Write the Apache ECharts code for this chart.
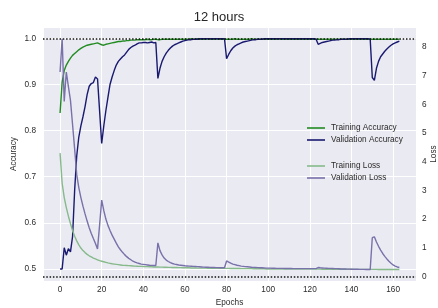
<!DOCTYPE html>
<html><head><meta charset="utf-8">
<script src="https://cdn.jsdelivr.net/npm/echarts@6/dist/echarts.min.js"></script>
<style>html,body{margin:0;padding:0;background:#fff}#c{width:438px;height:308px}</style>
</head><body><div id="c"></div>
<script>
const titleText = '12 hours';
const xName = 'Epochs';
const accName = 'Accuracy';
const lossName = 'Loss';
const xTicks = [0, 20, 40, 60, 80, 100, 120, 140, 160];
const accTicks = [0.5, 0.6, 0.7, 0.8, 0.9, 1.0];
const lossTicks = [0, 1, 2, 3, 4, 5, 6, 7, 8];
const seriesNames = ['Training Accuracy', 'Validation Accuracy', 'Training Loss', 'Validation Loss'];

const trainAcc = [
0.838,0.905,0.930,0.942,0.950,0.957,0.963,0.967,0.971,0.975,
0.978,0.981,0.983,0.985,0.986,0.987,0.988,0.989,0.990,0.988,
0.986,0.985,0.987,0.988,0.989,0.990,0.991,0.992,0.993,0.993,
0.994,0.994,0.995,0.995,0.996,0.996,0.996,0.997,0.997,0.997,
0.997,0.997,0.998,0.997,0.997,0.998,0.998,0.997,0.997,0.998,
0.998,0.998,0.998,0.998,0.998,0.998,0.998,0.998,0.998,0.998,
0.998,0.998,0.998,0.999,0.998,0.998,0.999,0.998,0.998,0.998,
0.998,0.999,0.998,0.998,0.998,0.999,0.998,0.998,0.998,0.998,
0.998,0.998,0.998,0.998,0.999,0.998,0.998,0.998,0.998,0.998,
0.998,0.998,0.999,0.998,0.998,0.998,0.998,0.998,0.998,0.998,
0.998,0.998,0.998,0.998,0.998,0.999,0.998,0.998,0.998,0.998,
0.998,0.998,0.998,0.998,0.998,0.998,0.998,0.998,0.998,0.998,
0.998,0.998,0.998,0.998,0.998,0.998,0.998,0.998,0.998,0.998,
0.998,0.998,0.998,0.998,0.998,0.998,0.998,0.998,0.998,0.998,
0.998,0.998,0.998,0.998,0.998,0.998,0.998,0.998,0.998,0.998,
0.998,0.998,0.998,0.998,0.998,0.998,0.998,0.998,0.998,0.998,
0.998,0.998,0.998,0.998
];
const valAcc = [
0.500,0.500,0.546,0.530,0.544,0.537,0.570,0.670,0.745,0.786,
0.810,0.830,0.852,0.878,0.896,0.902,0.904,0.916,0.912,0.842,
0.772,0.810,0.843,0.872,0.900,0.916,0.930,0.942,0.950,0.955,
0.960,0.964,0.970,0.976,0.980,0.983,0.985,0.988,0.990,0.990,
0.991,0.991,0.990,0.991,0.992,0.990,0.991,0.913,0.935,0.950,
0.960,0.968,0.974,0.979,0.983,0.986,0.988,0.990,0.992,0.994,
0.995,0.996,0.997,0.997,0.998,0.998,0.998,0.999,0.999,0.999,
0.999,0.999,0.999,0.999,0.999,0.999,0.999,0.999,0.999,0.999,
0.956,0.965,0.973,0.979,0.983,0.986,0.988,0.990,0.992,0.993,
0.994,0.995,0.996,0.997,0.997,0.998,0.998,0.998,0.999,0.999,
0.999,0.999,0.999,0.999,0.999,0.999,0.999,0.999,0.999,0.999,
0.999,0.999,0.999,0.999,0.999,0.999,0.999,0.999,0.999,0.999,
0.999,0.999,0.999,0.998,0.987,0.989,0.991,0.992,0.993,0.994,
0.995,0.996,0.996,0.997,0.997,0.998,0.998,0.998,0.998,0.999,
0.999,0.999,0.999,0.999,0.999,0.999,0.999,0.999,0.999,0.998,
0.915,0.909,0.935,0.950,0.960,0.966,0.972,0.977,0.981,0.985,
0.988,0.990,0.992,0.994
];
const trainLoss = [
4.30,3.25,2.75,2.40,2.10,1.84,1.60,1.40,1.24,1.10,
0.99,0.90,0.83,0.77,0.72,0.68,0.64,0.61,0.58,0.55,
0.53,0.51,0.49,0.47,0.455,0.44,0.43,0.42,0.41,0.40,
0.39,0.385,0.38,0.375,0.37,0.365,0.36,0.355,0.35,0.35,
0.345,0.34,0.34,0.335,0.335,0.33,0.33,0.33,0.325,0.325,
0.32,0.32,0.315,0.315,0.31,0.31,0.31,0.305,0.305,0.30,
0.30,0.30,0.30,0.295,0.295,0.295,0.29,0.29,0.29,0.29,
0.29,0.285,0.285,0.285,0.285,0.28,0.28,0.28,0.28,0.28,
0.28,0.28,0.275,0.275,0.275,0.275,0.275,0.27,0.27,0.27,
0.27,0.27,0.27,0.265,0.265,0.265,0.265,0.265,0.265,0.26,
0.26,0.26,0.26,0.26,0.26,0.26,0.26,0.258,0.258,0.258,
0.258,0.256,0.256,0.256,0.256,0.255,0.255,0.255,0.255,0.255,
0.254,0.254,0.254,0.253,0.253,0.253,0.252,0.252,0.252,0.251,
0.251,0.251,0.25,0.25,0.25,0.249,0.249,0.249,0.248,0.248,
0.248,0.247,0.247,0.247,0.246,0.246,0.246,0.245,0.245,0.245,
0.244,0.244,0.244,0.243,0.243,0.243,0.242,0.242,0.242,0.241,
0.241,0.241,0.240,0.240
];
const valLoss = [
7.13,8.29,6.10,7.13,6.62,6.14,5.30,4.45,3.55,3.10,
2.75,2.45,2.18,1.93,1.70,1.50,1.32,1.15,0.96,1.80,
2.66,2.30,2.00,1.78,1.60,1.44,1.30,1.16,1.03,0.93,
0.84,0.76,0.69,0.63,0.58,0.53,0.50,0.47,0.45,0.43,
0.42,0.41,0.40,0.39,0.385,0.38,0.38,1.17,0.90,0.75,
0.64,0.57,0.52,0.48,0.45,0.43,0.415,0.40,0.39,0.38,
0.37,0.365,0.36,0.355,0.35,0.345,0.34,0.335,0.33,0.325,
0.32,0.32,0.315,0.31,0.31,0.305,0.305,0.30,0.30,0.30,
0.54,0.50,0.46,0.43,0.41,0.39,0.375,0.36,0.35,0.34,
0.335,0.33,0.32,0.315,0.31,0.305,0.30,0.30,0.295,0.29,
0.29,0.29,0.285,0.285,0.28,0.28,0.28,0.28,0.275,0.275,
0.275,0.275,0.27,0.27,0.27,0.27,0.27,0.27,0.27,0.27,
0.27,0.27,0.27,0.27,0.31,0.30,0.295,0.29,0.285,0.28,
0.28,0.275,0.27,0.27,0.265,0.26,0.26,0.26,0.255,0.255,
0.25,0.25,0.25,0.25,0.245,0.245,0.245,0.24,0.24,0.24,
1.35,1.38,1.20,1.05,0.92,0.80,0.70,0.61,0.53,0.46,
0.40,0.36,0.33,0.31
];

const FONT = '"Liberation Sans", Arial, sans-serif';
const TXT = '#2b2b2b';
const FS = 8.25;
const pairs = arr => arr.map((v, i) => [i, v]);
const near = (v, list) => list.some(t => Math.abs(t - v) < 1e-6);

const chart = echarts.init(document.getElementById('c'), null, {renderer: 'canvas'});
chart.setOption({
  animation: false,
  backgroundColor: '#ffffff',
  textStyle: {fontFamily: FONT},
  title: {
    text: titleText, left: 'center', top: 6,
    textStyle: {fontFamily: FONT, fontSize: 13, fontWeight: 'normal', color: '#262626'}
  },
  grid: {
    left: 43, right: 22, top: 27, bottom: 27, show: true, backgroundColor: '#eaeaf2', borderWidth: 0,
    containLabel: false, outerBoundsMode: 'none'
  },
  legend: [
    {
      data: [seriesNames[0], seriesNames[1]], orient: 'vertical', left: 307, top: 122,
      icon: 'rect', itemWidth: 18, itemHeight: 1.6, itemGap: 0, padding: 0,
      textStyle: {fontFamily: FONT, fontSize: FS, color: TXT, lineHeight: 12, padding: [0, 0, 0, 1]}
    },
    {
      data: [seriesNames[2], seriesNames[3]], orient: 'vertical', left: 307, top: 160,
      icon: 'rect', itemWidth: 18, itemHeight: 1.6, itemGap: 0, padding: 0,
      textStyle: {fontFamily: FONT, fontSize: FS, color: TXT, lineHeight: 12, padding: [0, 0, 0, 1]}
    }
  ],
  xAxis: {
    type: 'value', min: -8.2, max: 171, splitNumber: 9,
    name: xName, nameLocation: 'middle', nameGap: 18, nameMoveOverlap: false,
    nameTextStyle: {fontFamily: FONT, fontSize: FS, color: TXT},
    axisLine: {show: false}, axisTick: {show: false},
    axisLabel: {
      fontFamily: FONT, fontSize: FS, color: TXT, margin: 5,
      formatter: v => near(v, xTicks) ? String(Math.round(v)) : ''
    },
    splitLine: {show: true, lineStyle: {color: '#ffffff', width: 1}}
  },
  yAxis: [
    {
      type: 'value', min: 0.474, max: 1.0245, splitNumber: 5,
      name: accName, nameLocation: 'middle', nameGap: 25, nameRotate: 90, nameMoveOverlap: false,
      nameTextStyle: {fontFamily: FONT, fontSize: FS, color: TXT},
      axisLine: {show: false}, axisTick: {show: false},
      axisLabel: {
        fontFamily: FONT, fontSize: FS, color: TXT, margin: 7,
        formatter: v => near(Math.round(v * 10) / 10, accTicks) && Math.abs(v * 10 - Math.round(v * 10)) < 1e-6 ? v.toFixed(1) : ''
      },
      splitLine: {show: true, lineStyle: {color: '#ffffff', width: 1}}
    },
    {
      type: 'value', position: 'right', min: -0.16, max: 8.70, splitNumber: 8,
      name: lossName, nameLocation: 'middle', nameGap: 14, nameRotate: 90, nameMoveOverlap: false,
      nameTextStyle: {fontFamily: FONT, fontSize: FS, color: TXT},
      axisLine: {show: false}, axisTick: {show: false},
      axisLabel: {
        fontFamily: FONT, fontSize: FS, color: TXT, margin: 6,
        formatter: v => near(v, lossTicks) ? String(Math.round(v)) : ''
      },
      splitLine: {show: false}
    }
  ],
  series: [
    {
      name: seriesNames[0], type: 'line', yAxisIndex: 0, data: pairs(trainAcc),
      showSymbol: false, symbol: 'none', color: '#228b22', lineStyle: {width: 1.4},
      markLine: {
        silent: true, symbol: 'none', label: {show: false},
        lineStyle: {type: [1.5, 1.8], color: '#111', width: 1.5}, z: 10,
        data: [{yAxis: 1.0}]
      }
    },
    {
      name: seriesNames[1], type: 'line', yAxisIndex: 0, data: pairs(valAcc),
      showSymbol: false, symbol: 'none', color: '#191970', lineStyle: {width: 1.4}
    },
    {
      name: seriesNames[2], type: 'line', yAxisIndex: 1, data: pairs(trainLoss),
      showSymbol: false, symbol: 'none', color: '#86ba8a', lineStyle: {width: 1.4},
      markLine: {
        silent: true, symbol: 'none', label: {show: false},
        lineStyle: {type: [1.5, 1.8], color: '#111', width: 1.5}, z: 10,
        data: [{yAxis: 0}]
      }
    },
    {
      name: seriesNames[3], type: 'line', yAxisIndex: 1, data: pairs(valLoss),
      showSymbol: false, symbol: 'none', color: '#7871aa', lineStyle: {width: 1.4}
    }
  ]
});
</script></body></html>
